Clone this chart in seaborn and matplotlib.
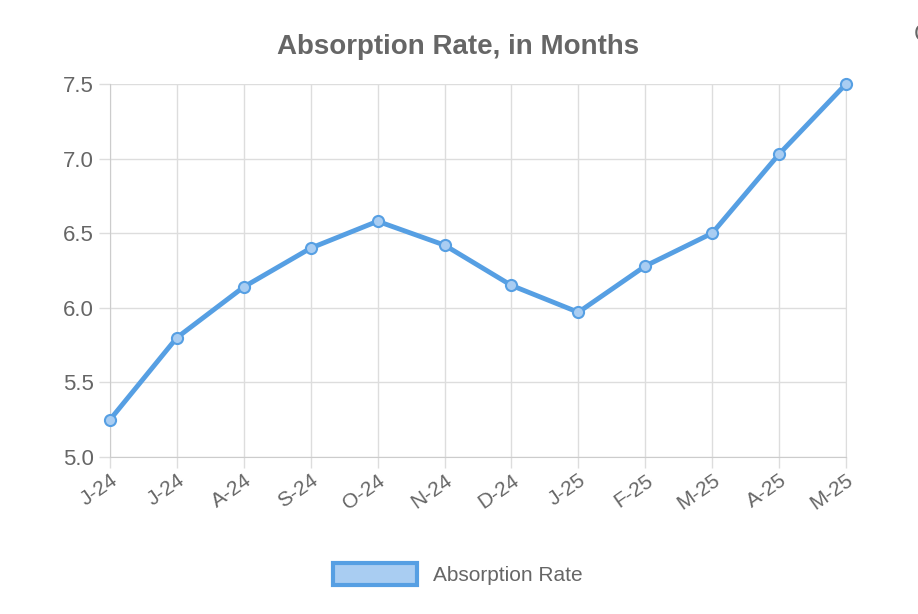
import matplotlib
matplotlib.use("Agg")
import matplotlib.pyplot as plt
import seaborn as sns
import pandas as pd
from matplotlib.patches import Patch

plt.rcParams["font.family"] = "Liberation Sans"

months = ["J-24","J-24","A-24","S-24","O-24","N-24","D-24","J-25","F-25","M-25","A-25","M-25"]
values = [5.25, 5.80, 6.14, 6.40, 6.58, 6.42, 6.15, 5.97, 6.28, 6.50, 7.03, 7.50]
yticks = [5.0, 5.5, 6.0, 6.5, 7.0, 7.5]

df = pd.DataFrame({"x": range(len(months)), "v": values})
fig = plt.figure(figsize=(9.18, 6.14), dpi=100)
ax = fig.add_axes([110/918, 1-457/614, (846-110)/918, (457-84)/614])
blue = "#569fe3"
sns.lineplot(data=df, x="x", y="v", ax=ax, color=blue, linewidth=3.5,
             marker="o", markersize=8, markerfacecolor="#a9cdf2",
             markeredgecolor=blue, markeredgewidth=1.5, zorder=3, clip_on=False)
ax.set_xlim(0, len(months)-1)
ax.set_ylim(5.0, 7.5)
ax.set_xticks(range(len(months)))
ax.set_xticklabels(months, rotation=35, ha="right", rotation_mode="anchor")
ax.set_yticks(yticks)
ax.set_yticklabels([f"{t:.1f}" for t in yticks])
ax.grid(True, color="#dddddd", linewidth=1)
ax.set_axisbelow(True)
ax.spines["top"].set_visible(False)
ax.spines["right"].set_color("#dddddd")
for s in ["left", "bottom"]:
    ax.spines[s].set_color("#cccccc")
ax.tick_params(colors="#666666", labelsize=15, length=8, width=1)
ax.tick_params(axis="x", color="#dddddd", pad=2)
ax.tick_params(axis="y", color="#dddddd", labelsize=16)
ax.set_xlabel("")
ax.set_ylabel("")
fig.text(458/918, 1-47/614, "Absorption Rate, in Months", ha="center", va="center",
         fontsize=20, fontweight="bold", color="#666666")
fig.text(914/918, 1-35/614, "C", ha="left", va="center", fontsize=17, color="#666666")
fig.legend(handles=[Patch(facecolor="#a9cdf2", edgecolor=blue, linewidth=3, label="Absorption Rate")],
           loc="center", bbox_to_anchor=(458/918, 1-574/614), frameon=False,
           fontsize=15, labelcolor="#666666", handlelength=4, handleheight=1.3)
fig.savefig("out.png", dpi=100)
